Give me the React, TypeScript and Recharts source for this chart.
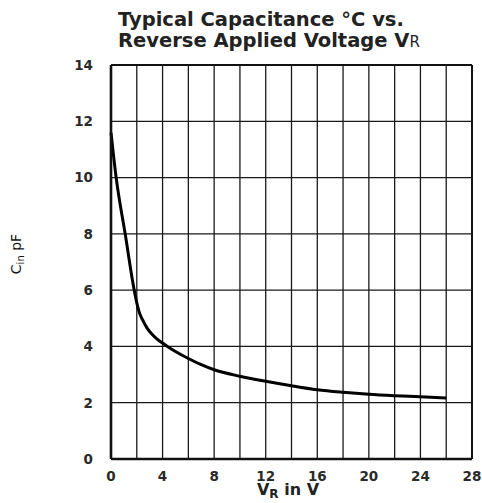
import { LineChart, Line, XAxis, YAxis, CartesianGrid, ReferenceLine } from 'recharts';

// reverse voltage (V) and input capacitance (pF)
const voltage = [0, 0.4, 1.1, 1.8, 2.0, 2.2, 2.5, 2.8, 3.2, 3.6, 4, 4.5, 5, 6, 7, 8, 10, 12, 14, 16, 18, 20, 22, 24, 26];
const capacitance = [11.6, 10.0, 8.0, 6.0, 5.55, 5.2, 4.9, 4.65, 4.42, 4.25, 4.12, 3.96, 3.82, 3.57, 3.35, 3.17, 2.94, 2.76, 2.6, 2.46, 2.37, 2.3, 2.25, 2.21, 2.17];

const xTicks = [0, 2, 4, 6, 8, 10, 12, 14, 16, 18, 20, 22, 24, 26, 28];
const yTicks = [0, 2, 4, 6, 8, 10, 12, 14];

const FONT = '"DejaVu Sans", "Liberation Sans", Arial, sans-serif';
const tickStyle = { fontFamily: FONT, fontWeight: 'bold', fontSize: 13.5, fill: '#2a2a2a' };

export default function App() {
  const data = voltage.map((v, i) => ({ v, c: capacitance[i] }));

  return (
    <div style={{ position: 'absolute', left: 0, top: 0, width: 482, height: 503, background: '#fff' }}>
      <LineChart width={482} height={503} data={data} margin={{ top: 65, right: 10, bottom: 0, left: 0 }}>
        <CartesianGrid stroke="#1a1a1a" strokeWidth={1.3} vertical horizontal />
        <XAxis
          type="number"
          dataKey="v"
          domain={[0, 28]}
          ticks={xTicks}
          interval={0}
          height={44}
          tickFormatter={(t: number) => (t % 4 === 0 ? String(t) : '')}
          tickSize={0}
          tickMargin={12}
          tick={tickStyle}
          axisLine={{ stroke: '#111', strokeWidth: 2.6 }}
        />
        <YAxis
          type="number"
          domain={[0, 14]}
          ticks={yTicks}
          interval={0}
          width={111}
          tickSize={0}
          tickMargin={18}
          tick={tickStyle}
          axisLine={{ stroke: '#111', strokeWidth: 2.6 }}
        />
        <ReferenceLine x={28} stroke="#111" strokeWidth={2} />
        <ReferenceLine y={14} stroke="#111" strokeWidth={2} />
        <Line
          type="monotone"
          dataKey="c"
          stroke="#000"
          strokeWidth={3}
          dot={false}
          isAnimationActive={false}
        />
      </LineChart>
      <svg
        width={482}
        height={503}
        style={{ position: 'absolute', left: 0, top: 0, pointerEvents: 'none' }}
      >
        <text x={118} y={26} fontFamily={FONT} fontWeight="bold" fontSize={19.5} fill="#222">
          Typical Capacitance °C vs.
        </text>
        <text x={118} y={47} fontFamily={FONT} fontWeight="bold" fontSize={19.5} fill="#222">
          Reverse Applied Voltage V
          <tspan fontSize={15} fontWeight="normal">R</tspan>
        </text>
        <text
          x={288}
          y={495}
          textAnchor="middle"
          fontFamily={FONT}
          fontWeight="bold"
          fontSize={16}
          fill="#222"
        >
          V<tspan fontSize={12} dy={3}>R</tspan>
          <tspan dy={-3}> in V</tspan>
        </text>
        <text
          x={21}
          y={254}
          transform="rotate(-90 21 254)"
          textAnchor="middle"
          fontFamily={FONT}
          fontSize={14}
          fill="#111"
        >
          C<tspan fontSize={10} dy={3}>in</tspan>
          <tspan dy={-3}> pF</tspan>
        </text>
      </svg>
    </div>
  );
}
